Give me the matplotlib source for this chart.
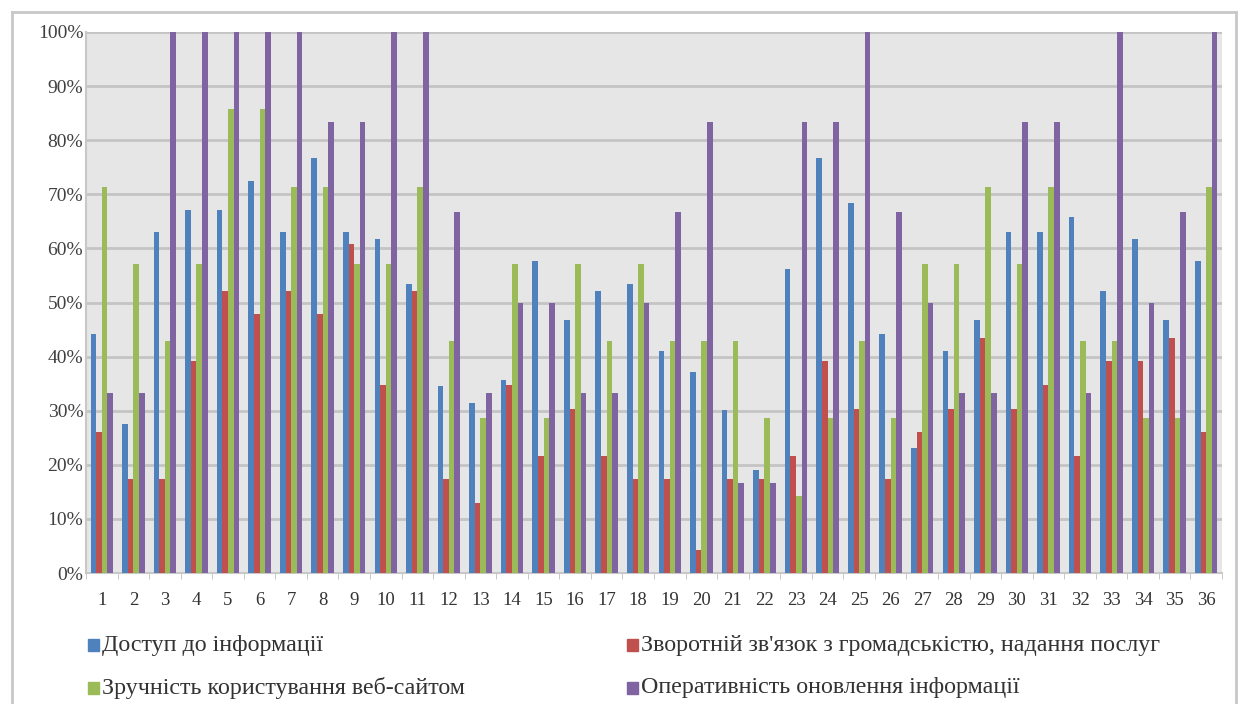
import numpy as np
import matplotlib
matplotlib.use("Agg")
import matplotlib.pyplot as plt
from matplotlib.patches import Rectangle
from matplotlib.lines import Line2D

categories = [str(i) for i in range(1, 37)]

access = [44.1, 27.6, 63.1, 67.1, 67.1, 72.5, 63.1, 76.7, 63.1, 61.8, 53.5, 34.5,
          31.4, 35.7, 57.7, 46.7, 52.2, 53.5, 41.0, 37.2, 30.2, 19.1, 56.1, 76.7,
          68.4, 44.1, 23.1, 41.0, 46.7, 63.1, 63.1, 65.8, 52.2, 61.8, 46.7, 57.7]
feedback = [26.1, 17.4, 17.4, 39.1, 52.2, 47.8, 52.2, 47.8, 60.9, 34.8, 52.2, 17.4,
            13.0, 34.8, 21.7, 30.4, 21.7, 17.4, 17.4, 4.3, 17.4, 17.4, 21.7, 39.1,
            30.4, 17.4, 26.1, 30.4, 43.5, 30.4, 34.8, 21.7, 39.1, 39.1, 43.5, 26.1]
usability = [71.4, 57.1, 42.9, 57.1, 85.7, 85.7, 71.4, 71.4, 57.1, 57.1, 71.4, 42.9,
             28.6, 57.1, 28.6, 57.1, 42.9, 57.1, 42.9, 42.9, 42.9, 28.6, 14.3, 28.6,
             42.9, 28.6, 57.1, 57.1, 71.4, 57.1, 71.4, 42.9, 42.9, 28.6, 28.6, 71.4]
update = [33.3, 33.3, 100, 100, 100, 100, 100, 83.3, 83.3, 100, 100, 66.7,
          33.3, 50.0, 50.0, 33.3, 33.3, 50.0, 66.7, 83.3, 16.7, 16.7, 83.3, 83.3,
          100, 66.7, 50.0, 33.3, 33.3, 83.3, 83.3, 33.3, 100, 50.0, 66.7, 100]

series_names = ["Доступ до інформації",
                "Зворотній зв'язок з громадськістю, надання послуг",
                "Зручність користування веб-сайтом",
                "Оперативність оновлення інформації"]
series_values = [access, feedback, usability, update]
colors = ["#4f81bd", "#c0504d", "#9bbb59", "#8064a2"]

yticks = list(range(0, 101, 10))
ytick_labels = [f"{v}%" for v in yticks]

plt.rcParams['font.family'] = ['Liberation Serif', 'DejaVu Serif']

W, H = 1240, 704
fig = plt.figure(figsize=(W / 100, H / 100), dpi=100)
fig.patch.set_facecolor("white")

ax = fig.add_axes([86 / W, 1 - 573 / H, (1222 - 86) / W, (573 - 32) / H])
ax.set_facecolor("#e6e6e6")

x = np.arange(len(categories))
w = 0.177
for i, (vals, c) in enumerate(zip(series_values, colors)):
    ax.bar(x + (i - 1.5) * w, vals, width=w, color=c, edgecolor="none", zorder=3)

ax.set_xlim(-0.5, len(categories) - 0.5)
ax.set_ylim(0, 100)
ax.set_yticks(yticks)
ax.set_yticklabels(ytick_labels)
ax.set_xticks(x)
ax.set_xticklabels(categories)
ax.set_xticks(np.arange(-0.5, len(categories), 1), minor=True)
ax.tick_params(axis="x", which="major", length=0, pad=14, labelsize=13.5, labelcolor="#333333")
ax.tick_params(axis="x", which="minor", length=4, color="#bfbfbf", direction="out")
ax.tick_params(axis="y", length=0, pad=2, labelsize=14, labelcolor="#404040")
ax.grid(axis="y", color="#c4c4c4", linewidth=2, zorder=1)
for s in ["top", "right"]:
    ax.spines[s].set_visible(False)
for s in ["left", "bottom"]:
    ax.spines[s].set_color("#c8c8c8")
    ax.spines[s].set_linewidth(1.5)

# legend drawn manually in two columns
leg_pos = [(88, 645), (627, 645), (88, 688), (627, 688)]
for (px, py), name, c in zip(leg_pos, series_names, colors):
    fig.add_artist(Rectangle((px / W, 1 - (py + 6) / H), 11 / W, 12 / H,
                             transform=fig.transFigure, color=c))
    fig.text((px + 14) / W, 1 - py / H, name, fontsize=17.3, color="#333333",
             va="center", ha="left")

# outer chart frame
fc = "#c8c8c8"
fig.add_artist(Line2D([12 / W, 12 / W], [0, 1 - 12 / H], color=fc, lw=2, transform=fig.transFigure))
fig.add_artist(Line2D([12 / W, 1236 / W], [1 - 12 / H, 1 - 12 / H], color=fc, lw=2, transform=fig.transFigure))
fig.add_artist(Line2D([1236 / W, 1236 / W], [0, 1 - 12 / H], color=fc, lw=2, transform=fig.transFigure))

fig.savefig("out.png", dpi=100)
